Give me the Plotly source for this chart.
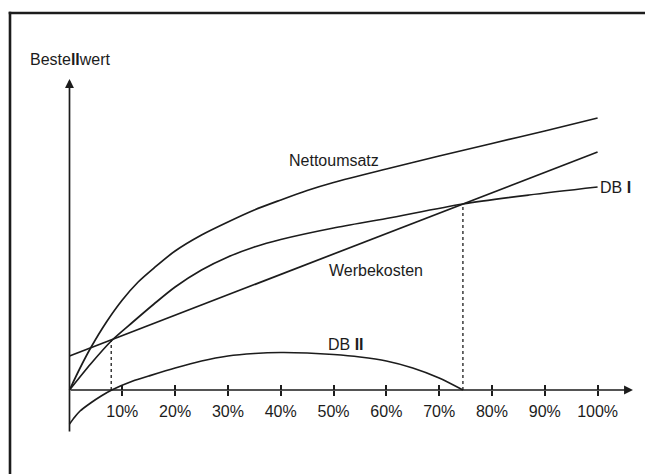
import plotly.graph_objects as go

# ---- data (x in % of Bestellwert-share, y in arbitrary value units) ----
netto_x = [0, 2, 4, 7, 10, 13, 16, 20, 25, 30, 35, 40, 45, 50, 60, 70, 80, 90, 100]
netto_y = [0, 2.2, 4.2, 6.8, 9.0, 10.8, 12.2, 13.9, 15.5, 16.8, 18.0, 19.0, 19.95, 20.75, 22.1, 23.4, 24.65, 25.9, 27.2]

db1_x = [0, 4, 8, 12, 16, 20, 25, 30, 35, 40, 50, 60, 74.5, 87, 100]
db1_y = [0, 2.6, 4.95, 6.8, 8.6, 10.3, 12.0, 13.3, 14.3, 15.05, 16.2, 17.15, 18.6, 19.5, 20.3]

werbe_x = [0, 100]
werbe_y = [3.4, 23.8]

db2_x = [0, 1, 2, 4, 6, 8, 12, 15, 20, 25, 30, 35, 40, 45, 50, 55, 60, 65, 70, 74.5]
db2_y = [-3.4, -2.7, -2.1, -1.3, -0.6, 0, 0.9, 1.4, 2.2, 2.9, 3.4, 3.65, 3.75, 3.7, 3.55, 3.3, 2.9, 2.2, 1.2, 0]

break_x = [7.9, 74.5]
break_y = [4.95, 18.6]

tick_vals = [10, 20, 30, 40, 50, 60, 70, 80, 90, 100]
tick_text = ["10%", "20%", "30%", "40%", "50%", "60%", "70%", "80%", "90%", "100%"]

INK = "#1c1c1c"
FONT = "Liberation Sans, Arial, Helvetica, sans-serif"
LW = 1.7

fig = go.Figure()

for xs, ys in [(netto_x, netto_y), (db1_x, db1_y), (werbe_x, werbe_y), (db2_x, db2_y)]:
    fig.add_trace(go.Scatter(x=xs, y=ys, mode="lines",
                             line=dict(color=INK, width=LW, shape="spline", smoothing=0.8),
                             hoverinfo="skip", showlegend=False))

for bx, by in zip(break_x, break_y):
    fig.add_trace(go.Scatter(x=[bx, bx], y=[0, by], mode="lines",
                             line=dict(color=INK, width=1.3, dash="dot"),
                             hoverinfo="skip", showlegend=False))

# invisible trace on the secondary x axis so it is drawn
fig.add_trace(go.Scatter(x=[tick_vals[0]], y=[0], xaxis="x2", mode="markers",
                         marker=dict(opacity=0), hoverinfo="skip", showlegend=False))

X_MIN, X_MAX = -13.16, 108.98
Y_MIN, Y_MAX = -8.4, 39.0
axis_pos = (0 - Y_MIN) / (Y_MAX - Y_MIN)

common_x = dict(range=[X_MIN, X_MAX], domain=[0, 1], anchor="free", position=axis_pos,
                showgrid=False, zeroline=False, showline=False,
                tickvals=tick_vals, ticktext=tick_text,
                tickcolor=INK, tickwidth=1.5, ticklen=5)

FX = 10 / 645
FY = 1 - 13 / 474
fig.update_layout(
    width=645, height=474,
    margin=dict(l=0, r=0, t=0, b=0),
    paper_bgcolor="white", plot_bgcolor="white",
    font=dict(family=FONT, size=16, color=INK),
    xaxis=dict(**common_x, ticks="outside", showticklabels=True,
               ticklabelstandoff=2,
               tickfont=dict(family=FONT, size=16, color=INK)),
    xaxis2=dict(**common_x, overlaying="x", ticks="inside", showticklabels=False),
    yaxis=dict(range=[Y_MIN, Y_MAX], visible=False),
    shapes=[
        dict(type="line", xref="paper", yref="paper", x0=FX, x1=FX, y0=-0.02, y1=FY + 0.0028,
             line=dict(color=INK, width=2.6)),
        dict(type="line", xref="paper", yref="paper", x0=FX - 0.002, x1=1.02, y0=FY, y1=FY,
             line=dict(color=INK, width=2.6)),
    ],
)

# axes with arrowheads
fig.add_annotation(x=0, y=31.1, ax=0, ay=-4.3, xref="x", yref="y", axref="x", ayref="y",
                   showarrow=True, arrowhead=2, arrowsize=1.05, arrowwidth=1.7,
                   arrowcolor=INK, text="")
fig.add_annotation(x=106.7, y=0, ax=0, ay=0, xref="x", yref="y", axref="x", ayref="y",
                   showarrow=True, arrowhead=2, arrowsize=1.05, arrowwidth=1.7,
                   arrowcolor=INK, text="")

labels = [
    ("Beste<b>ll</b>wert", -7.86, 33.05, "left"),
    ("Nettoumsatz", 50.1, 23.0, "center"),
    ("Werbekosten", 58.0, 12.0, "center"),
    ("DB <b>I</b>", 100.0, 20.3, "left"),
    ("DB <b>II</b>", 52.4, 4.6, "center"),
]
for txt, lx, ly, anc in labels:
    fig.add_annotation(x=lx, y=ly, text=txt, showarrow=False, xanchor=anc, yanchor="middle",
                       font=dict(family=FONT, size=16, color=INK))

fig.write_html("out.html", config={"displayModeBar": False},
               post_script="document.body.style.margin='0';document.body.style.overflow='hidden';")
